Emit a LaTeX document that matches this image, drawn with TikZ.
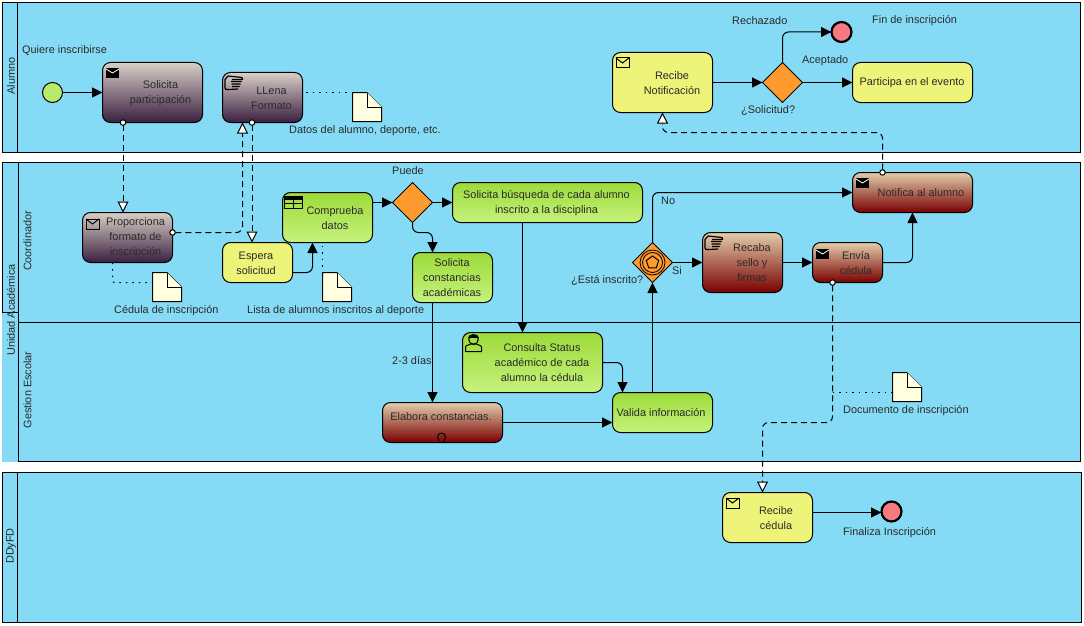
\documentclass[tikz,border=0pt]{standalone}
\usepackage{fontspec}
\setmainfont{Liberation Sans}
\usetikzlibrary{arrows.meta,calc}
\definecolor{poolblue}{HTML}{85DBF5}
\definecolor{mauveT}{HTML}{D9CFC7}
\definecolor{mauveB}{HTML}{3A1F40}
\definecolor{redT}{HTML}{E3CDAB}
\definecolor{redB}{HTML}{780000}
\definecolor{greenT}{HTML}{9CDB3A}
\definecolor{greenB}{HTML}{C6F27C}
\definecolor{taskyellow}{HTML}{EEF47A}
\definecolor{gateorange}{HTML}{FF9A2E}
\definecolor{endred}{HTML}{F5797F}
\definecolor{startgreen}{HTML}{B8EA6C}
\definecolor{notefill}{HTML}{FFFFE0}
\definecolor{txt}{HTML}{2A2A2A}
\tikzset{
  pool/.style={draw=black,fill=poolblue,line width=1pt},
  headline/.style={draw=black,line width=1pt},
  flowtask/.style={draw=black,line width=1pt,rounded corners=8pt,inner sep=0pt,outer sep=0pt},
  mauvetask/.style={flowtask,top color=mauveT,bottom color=mauveB},
  redtask/.style={flowtask,top color=redT,bottom color=redB},
  greentask/.style={flowtask,top color=greenT,bottom color=greenB},
  yellowtask/.style={flowtask,fill=taskyellow},
  gate/.style={draw=black,fill=gateorange,line width=1pt},
  startev/.style={circle,draw=black,fill=startgreen,line width=1pt,minimum size=20pt,inner sep=0pt,outer sep=0pt},
  endev/.style={circle,draw=black,fill=endred,line width=2.2pt,minimum size=20pt,inner sep=0pt,outer sep=0pt},
  lbl/.style={font=\fontsize{10.9pt}{15pt}\selectfont,text=txt,inner sep=0pt,align=center},
  lanelbl/.style={lbl,rotate=90},
  seq/.style={draw=black,line width=1pt,rounded corners=6pt,-{Triangle[length=10.5pt,width=10pt]}},
  msg/.style={draw=black,line width=1pt,rounded corners=6pt,dash pattern=on 6pt off 4pt,
    {Circle[open,fill=white,length=6.5pt,width=6.5pt,sep=-3.2pt]}-{Triangle[open,fill=white,length=11pt,width=11pt]}},
  assoc/.style={draw=black,line width=1pt,rounded corners=2pt,dash pattern=on 1.5pt off 5pt},
  notebody/.style={draw=black,fill=notefill,line width=1pt,line join=miter},
  icon/.style={draw=black,line width=1pt},
}
% task: name, style, cx, cy, w, h
\newcommand{\flowbox}[6]{\node[#2,minimum width=#5pt,minimum height=#6pt] (#1) at (#3,#4) {};}
% note: name, left, top
\newcommand{\notedoc}[3]{%
  \node[inner sep=0pt,outer sep=0pt,minimum size=29pt] (#1) at (#2+14.5,#3+14.5) {};
  \path[notebody] (#2,#3) -- (#2+14.5,#3) -- (#2+29,#3+14.5) -- (#2+29,#3+29) -- (#2,#3+29) -- cycle;
  \path[notebody] (#2+14.5,#3) -- (#2+14.5,#3+14.5) -- (#2+29,#3+14.5);
}
\newcommand{\openenv}[2]{%
  \draw[icon,line join=miter] (#1,#2) rectangle (#1+13,#2+10);
  \draw[icon] (#1,#2) -- (#1+6.5,#2+5) -- (#1+13,#2);
}
\newcommand{\fullenv}[2]{%
  \fill[black] (#1,#2) rectangle (#1+13,#2+10);
  \draw[white,line width=0.8pt] (#1,#2+1) -- (#1+6.5,#2+5) -- (#1+13,#2+1);
}
\newcommand{\handicon}[2]{%
  \draw[black,line width=1.2pt,line join=round]
    (#1+5.5,#2+14.5) -- (#1+2,#2+14.5) -- (#1+1,#2+13) -- (#1+1,#2+4.5) -- (#1+4,#2+1) -- (#1+18,#2+2.5) -- (#1+18.5,#2+4.5)
    -- (#1+8,#2+4.5);
  \draw[black,line width=1.2pt] (#1+7,#2+6.5) -- (#1+17.5,#2+6.5) (#1+7.5,#2+9) -- (#1+16.5,#2+9)
    (#1+8,#2+11.5) -- (#1+15.5,#2+11.5) (#1+5.5,#2+14.5) -- (#1+14,#2+14);
}
\begin{document}
\begin{tikzpicture}[x=1pt,y=-1pt]
\useasboundingbox (0,0) rectangle (1084,626);
\fill[white] (0,0) rectangle (1084,626);

% pools
\path[pool] (2.5,2.5) rectangle (1080.5,152.5);
\draw[headline] (17.5,2.5) -- (17.5,152.5);
\fill[poolblue] (2,162.5) rectangle (1080.5,461.5);
\draw[headline] (18.5,461.5) -- (1080.5,461.5) -- (1080.5,162.5) -- (2.5,162.5) -- (2.5,312.5) -- (18.5,312.5);
\draw[black,line width=1.4pt] (18.5,162.5) -- (18.5,461.5);
\draw[headline] (18.5,322.5) -- (1080.5,322.5);
\path[pool] (2.5,472.5) rectangle (1081.5,622.5);
\draw[headline] (17.5,472.5) -- (17.5,622.5);

\node[lanelbl] (lAlumno) at (11,76) {Alumno};
\node[lanelbl] (lUnidad) at (11,310) {Unidad Académica};
\node[lanelbl] (lCoord) at (27.5,241) {Coordinador};
\node[lanelbl] (lGest) at (27.5,390) {Gestion Escolar};
\node[lanelbl] (lDD) at (11,546) {DDyFD};

% tasks
\flowbox{solicita}{mauvetask}{152.5}{92.5}{100}{60}
\flowbox{llena}{mauvetask}{262.5}{97.5}{80}{50}
\flowbox{proporciona}{mauvetask}{127.5}{237.5}{90}{50}
\flowbox{espera}{yellowtask}{257.5}{262.5}{70}{40}
\flowbox{comprueba}{greentask}{327.5}{217.5}{90}{50}
\flowbox{busqueda}{greentask}{547.5}{202.5}{190}{40}
\flowbox{constancias}{greentask}{452.5}{277.5}{80}{50}
\flowbox{consulta}{greentask}{532.5}{362.5}{140}{60}
\flowbox{elabora}{redtask}{442.5}{422.5}{120}{40}
\flowbox{valida}{greentask}{662.5}{412.5}{100}{40}
\flowbox{recaba}{redtask}{742.5}{262.5}{80}{60}
\flowbox{envia}{redtask}{847.5}{262.5}{70}{40}
\flowbox{notifica}{redtask}{912.5}{192.5}{120}{40}
\flowbox{recibeN}{yellowtask}{662.5}{82.5}{100}{60}
\flowbox{participa}{yellowtask}{912.5}{82.5}{120}{40}
\flowbox{recibeC}{yellowtask}{767.5}{517.5}{90}{50}

% task texts
\node[lbl] (tSolicita) at (160.5,93) {Solicita\\participación};
\node[lbl] (tLlena) at (271.5,98) {LLena\\Formato};
\node[lbl] (tProp) at (135.5,237.5) {Proporciona\\formato de\\inscripción};
\node[lbl] (tEspera) at (256,263) {Espera\\solicitud};
\node[lbl] (tComp) at (335,218) {Comprueba\\datos};
\node[lbl] (tBusq) at (546.5,203) {Solicita búsqueda de cada alumno\\inscrito a la disciplina};
\node[lbl] (tConst) at (452,277.5) {Solicita\\constancias\\académicas};
\node[lbl] (tConsulta) at (542,362.5) {Consulta Status\\académico de cada\\alumno la cédula};
\node[lbl] (tElabora) at (441,416.5) {Elabora constancias.};
\node[lbl] (tValida) at (661,412.5) {Valida información};
\node[lbl] (tRecaba) at (752,262.5) {Recaba\\sello y\\firmas};
\node[lbl] (tEnvia) at (856,263) {Envía\\cédula};
\node[lbl] (tNotif) at (921,192.5) {Notifica al alumno};
\node[lbl] (tRecN) at (672,83) {Recibe\\Notificación};
\node[lbl] (tPart) at (912,82.5) {Participa en el evento};
\node[lbl] (tRecC) at (776,518) {Recibe\\cédula};

% gateways
\node[inner sep=0pt,outer sep=0pt,minimum size=40pt] (gPuede) at (412.5,202.5) {};
\path[gate] (392.5,202.5) -- (412.5,182.5) -- (432.5,202.5) -- (412.5,222.5) -- cycle;
\node[inner sep=0pt,outer sep=0pt,minimum size=40pt] (gInscrito) at (652.5,262.5) {};
\path[gate] (632.5,262.5) -- (652.5,242.5) -- (672.5,262.5) -- (652.5,282.5) -- cycle;
\draw[icon,line width=0.8pt] (652.5,262.5) circle (12.5pt) (652.5,262.5) circle (10pt);
\draw[icon] (652.5,256) -- (658.7,260.5) -- (656.3,267.8) -- (648.7,267.8) -- (646.3,260.5) -- cycle;
\node[inner sep=0pt,outer sep=0pt,minimum size=40pt] (gSolicitud) at (782.5,82.5) {};
\path[gate] (762.5,82.5) -- (782.5,62.5) -- (802.5,82.5) -- (782.5,102.5) -- cycle;

% events
\node[startev] (inicio) at (52.5,92.5) {};
\node[endev] (finR) at (841.5,32) {};
\node[endev] (finC) at (891.5,511.5) {};

% notes
\notedoc{nDatos}{352.5}{92.5}
\notedoc{nCedula}{152.5}{272.5}
\notedoc{nLista}{322.5}{272.5}
\notedoc{nDoc}{892.5}{372.5}

% sequence flows
\draw[seq] (inicio.east) -- (solicita.west |- inicio.east);
\draw[seq] ([yshift=-10pt]espera.east) -| ([xshift=-15pt]comprueba.south);
\draw[seq] (comprueba.east |- gPuede.west) -- (gPuede.west);
\draw[seq] (gPuede.east) -- (busqueda.west);
\draw[seq] (gPuede.south) -- (412.5,232.5) -- (432.5,232.5) -- ([xshift=-20pt]constancias.north);
\draw[seq,rounded corners=0pt] ([xshift=-20pt]constancias.south) -- ([xshift=-10pt]elabora.north);
\draw[seq,rounded corners=0pt] ([xshift=-25pt]busqueda.south) -- ([xshift=-10pt]consulta.north);
\draw[seq] (consulta.east) -| ([xshift=-40pt]valida.north);
\draw[seq] (elabora.east) -- ([yshift=-10pt]valida.west);
\draw[seq] ([xshift=-10pt]valida.north) -- (gInscrito.south);
\draw[seq] (gInscrito.north) |- (notifica.west);
\draw[seq] (gInscrito.east) -- (recaba.west);
\draw[seq] (recaba.east) -- (envia.west);
\draw[seq] (envia.east) -| (notifica.south);
\draw[seq] (recibeN.east) -- (gSolicitud.west);
\draw[seq] (gSolicitud.north) |- (finR.west);
\draw[seq] (gSolicitud.east) -- (participa.west);
\draw[seq] ([yshift=5pt]recibeC.east) -- (finC.west |- 0,512.5);

% message flows
\draw[msg] ([xshift=-29.5pt]solicita.south) -- ([xshift=-4.5pt]proporciona.north);
\draw[msg] ([xshift=-10.5pt]llena.south) -- ([xshift=-5.5pt]espera.north);
\draw[msg] ([yshift=5pt]proporciona.east) -- (242.5,232.5) -- ([xshift=-20pt]llena.south);
\draw[msg] ([xshift=-30pt]notifica.north) -- (882.5,132.5) -- (662.5,132.5) -- (recibeN.south);
\draw[msg] ([xshift=-15pt]envia.south) -- (832.5,422.5) -- (762.5,422.5) -- ([xshift=-5pt]recibeC.north);

% associations
\draw[assoc] (306,92.5) -- (nDatos.north west);
\draw[assoc] ([xshift=-15pt]proporciona.south) -- (112.5,282.5) -- (nCedula.west |- 0,282.5);
\draw[assoc] ([xshift=-5pt,yshift=-3pt]comprueba.south) -- ([yshift=5pt]nLista.north west);
\draw[assoc] (832.5,392.5) -- (nDoc.west |- 0,392.5);

% icons
\fullenv{106}{68}
\openenv{86}{219}
\fullenv{816}{249}
\fullenv{856}{178}
\openenv{616}{58}
\openenv{726}{498}
\handicon{224}{75}
\handicon{704}{235}
% table
\fill[black] (284.5,196) rectangle (302,200);
\draw[icon,line join=miter] (284.5,196) rectangle (302,208.5) (284.5,203) -- (302,203) (293,200) -- (293,208.5);
% user
\draw[icon,line join=round] (465.5,351.5) -- (465.5,347) .. controls (465.5,345) and (470,345) .. (470.5,344)
 -- (476.5,344) .. controls (477,345) and (481.5,345) .. (481.5,347) -- (481.5,351.5) -- cycle;
\draw[icon] (473.5,339.5) circle (4.8pt);
\fill[black] (468,338) .. controls (468,332.5) and (479,332.5) .. (479,338) -- cycle;
% loop marker
\draw[icon,line width=0.9pt] (439.5,440.5) arc (240:-60:4pt);
\fill[black] (443.5,440.5) -- (445,443) -- (442.5,442.8) -- cycle;

% free labels
\node[lbl,anchor=west] (lQuiere) at (22,50.5) {Quiere inscribirse};
\node[lbl,anchor=west] (lDatos) at (289,130.5) {Datos del alumno, deporte, etc.};
\node[lbl] (lPuede) at (408,170.5) {Puede};
\node[lbl,anchor=west] (lCedula) at (114,310.5) {Cédula de inscripción};
\node[lbl,anchor=west] (lLista) at (247,310.5) {Lista de alumnos inscritos al deporte};
\node[lbl,anchor=west] (l23) at (392,360.5) {2-3 días};
\node[lbl,anchor=west] (lEsta) at (571,280.5) {¿Está inscrito?};
\node[lbl,anchor=west] (lSi) at (672,270.5) {Si};
\node[lbl,anchor=west] (lNo) at (661,200.5) {No};
\node[lbl,anchor=west] (lRech) at (732,20.5) {Rechazado};
\node[lbl,anchor=west] (lFin) at (872,20.5) {Fin de inscripción};
\node[lbl,anchor=west] (lAcep) at (802,60.5) {Aceptado};
\node[lbl,anchor=west] (lSoli) at (741,110.5) {¿Solicitud?};
\node[lbl,anchor=west] (lDocu) at (843,410.5) {Documento de inscripción};
\node[lbl,anchor=west] (lFinal) at (843,532.5) {Finaliza Inscripción};
\end{tikzpicture}
\end{document}
